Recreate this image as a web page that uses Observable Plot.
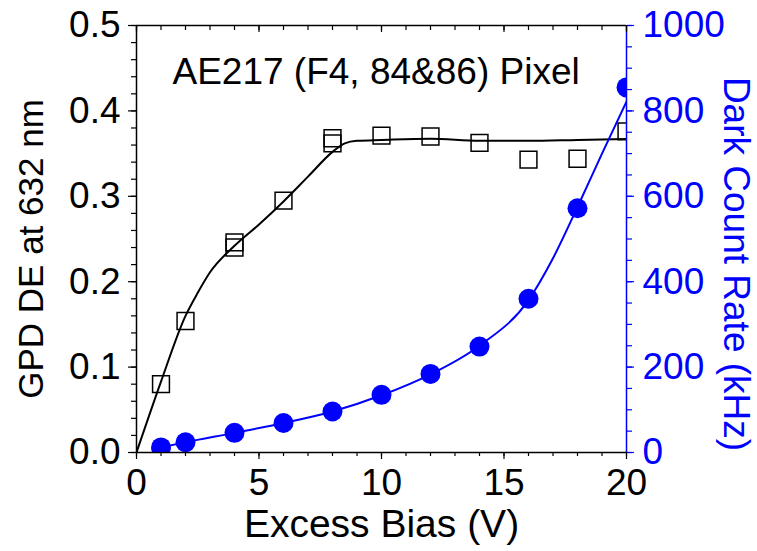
<!DOCTYPE html>
<html>
<head>
<meta charset="utf-8">
<script src="https://cdn.jsdelivr.net/npm/d3@7"></script>
<script src="https://cdn.jsdelivr.net/npm/@observablehq/plot@0.6"></script>
<style>
  html, body { margin: 0; padding: 0; background: #fff; }
</style>
</head>
<body>
<div id="chart"></div>
<script>
// ---- data ----
const titleText = "AE217 (F4, 84&86) Pixel";
const xLabel = "Excess Bias (V)";
const yLeftLabel = "GPD DE at 632 nm";
const yRightLabel = "Dark Count Rate (kHz)";

// detection efficiency (open squares)
const deBias = [1, 2, 4, 4, 6, 8, 8, 10, 12, 14, 16, 18, 20];
const deValue = [0.080, 0.154, 0.240, 0.246, 0.295, 0.362, 0.368, 0.371, 0.370, 0.3625, 0.343, 0.344, 0.376];
// detection efficiency fit line
const deFitBias = [0, 1, 2, 2.5, 3, 4, 5, 6, 7, 8, 8.5, 9, 10, 12, 14, 16, 18, 20];
const deFitValue = [0, 0.083, 0.160, 0.187, 0.211, 0.242, 0.267, 0.294, 0.323, 0.352, 0.362, 0.365, 0.366, 0.3675, 0.365, 0.365, 0.366, 0.367];

// dark count rate, kHz (filled circles)
const dcBias = [1, 2, 4, 6, 8, 10, 12, 14, 16, 18, 20];
const dcValue = [12, 24, 46, 69, 96, 135, 184, 248, 360, 572, 855];
// dark count fit line
const dcFitBias = [1, 2, 4, 6, 8, 10, 12, 14, 16, 17, 18, 19, 20];
const dcFitValue = [12, 24, 46, 69, 96, 134, 183, 250, 357, 455, 575, 700, 822];

// ticks
const xTicks = [0, 5, 10, 15, 20];
const deTicks = [0, 0.1, 0.2, 0.3, 0.4, 0.5];
const dcTicks = [0, 200, 400, 600, 800, 1000];

// ---- layout ----
const W = 757, H = 551;
const mL = 136, mR = 131, mT = 25, mB = 99;
const plotH = H - mT - mB;
const dcMax = 1000, deMax = 0.5;
const dcToY = v => v * deMax / dcMax;   // right axis mapped onto the left scale

const xMinor = d3.range(0, 20.001, 1);
const deMinor = d3.range(0, 0.5001, 0.02);
const dcMinor = d3.range(0, 1000.1, 50).map(dcToY);

const deRows = deBias.map((x, i) => ({x, y: deValue[i]}));
const deFitRows = deFitBias.map((x, i) => ({x, y: deFitValue[i]}));
const dcRows = dcBias.map((x, i) => ({x, y: dcToY(dcValue[i])}));
const dcFitRows = dcFitBias.map((x, i) => ({x, y: dcToY(dcFitValue[i])}));

const FS = 37;

const chart = Plot.plot({
  width: W, height: H,
  marginLeft: mL, marginRight: mR, marginTop: mT, marginBottom: mB,
  style: {fontFamily: "'Liberation Sans', Arial, Helvetica, sans-serif", fontSize: FS + "px", background: "#fff", color: "#000"},
  x: {domain: [0, 20]},
  y: {domain: [0, deMax]},
  marks: [
    // data
    Plot.line(deFitRows, {x: "x", y: "y", stroke: "#000", strokeWidth: 2, curve: "monotone-x", clip: "frame"}),
    Plot.line(dcFitRows, {x: "x", y: "y", stroke: "#0000ff", strokeWidth: 2, curve: "monotone-x", clip: "frame"}),
    Plot.dot(deRows, {x: "x", y: "y", symbol: "square", r: 9.5, stroke: "#000", strokeWidth: 1.5, fill: "none", clip: "frame"}),
    Plot.dot(dcRows, {x: "x", y: "y", r: 10, fill: "#0000ff", stroke: "none", clip: "frame"}),

    // frame
    Plot.ruleY([0], {stroke: "#000", strokeWidth: 1.5}),
    Plot.ruleY([deMax], {stroke: "#000", strokeWidth: 1.5}),
    Plot.ruleX([0], {stroke: "#000", strokeWidth: 1.5}),
    Plot.ruleX([20], {stroke: "#0000ff", strokeWidth: 1.5}),

    // top inward ticks
    Plot.tickX(xMinor, {x: d => d, stroke: "#000", strokeWidth: 1.2, insetBottom: plotH - 5}),
    Plot.tickX(xTicks, {x: d => d, stroke: "#000", strokeWidth: 1.2, insetBottom: plotH - 7}),

    // bottom axis
    Plot.axisX({anchor: "bottom", ticks: xMinor, tickSize: 4, fill: "none", label: null, strokeWidth: 1.2}),
    Plot.axisX({anchor: "bottom", ticks: xTicks, tickSize: 7, tickPadding: 9, fontSize: FS, label: null, strokeWidth: 1.2, tickFormat: d => String(d)}),

    // left axis
    Plot.axisY({anchor: "left", ticks: deMinor, tickSize: 5, fill: "none", label: null, strokeWidth: 1.2}),
    Plot.axisY({anchor: "left", ticks: deTicks, tickSize: 8, tickPadding: 8, fontSize: FS, label: null, strokeWidth: 1.2, tickFormat: d3.format(".1f")}),

    // right axis (dark count rate)
    Plot.axisY({anchor: "right", ticks: dcMinor, tickSize: 5, color: "#0000ff", fill: "none", label: null, strokeWidth: 1.2}),
    Plot.axisY({anchor: "right", ticks: dcTicks.map(dcToY), tickSize: 7, tickPadding: 9, fontSize: FS, color: "#0000ff", label: null, strokeWidth: 1.2,
      tickFormat: d => String(Math.round(d * dcMax / deMax))}),

    // titles
    Plot.text([titleText], {frameAnchor: "top-left", dx: 36, dy: 58, textAnchor: "start", lineAnchor: "bottom", fontSize: 37, fill: "#000"}),
    Plot.text([xLabel], {frameAnchor: "bottom", dy: 84, textAnchor: "middle", lineAnchor: "bottom", fontSize: 39, fill: "#000"}),
    Plot.text([yLeftLabel], {frameAnchor: "left", dx: -105, dy: 10, rotate: -90, textAnchor: "middle", lineAnchor: "middle", fontSize: 35, fill: "#000"}),
    Plot.text([yRightLabel], {frameAnchor: "right", dx: 109, dy: 25, rotate: 90, textAnchor: "middle", lineAnchor: "middle", fontSize: 37, fill: "#0000ff"})
  ]
});

document.getElementById("chart").appendChild(chart);
</script>
</body>
</html>
